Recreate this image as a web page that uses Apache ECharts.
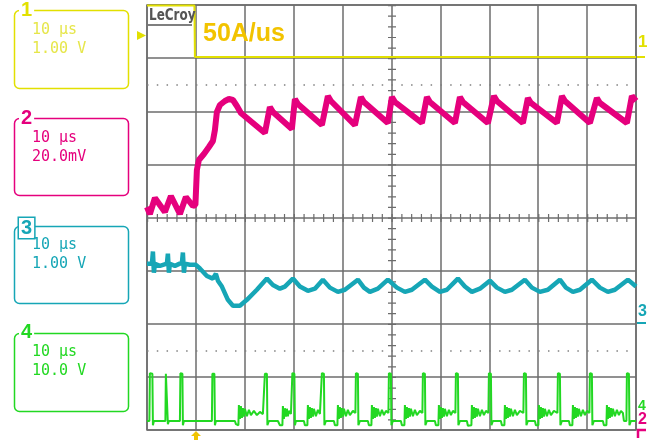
<!DOCTYPE html>
<html><head><meta charset="utf-8">
<script src="https://cdn.jsdelivr.net/npm/echarts@6/dist/echarts.min.js"></script>
<style>html,body{margin:0;padding:0;background:#fff}#c{width:652px;height:440px}</style>
</head><body><div id="c"></div><script>
const channelNames = ['1', '2', '3', '4'];
const timePerDiv = '10 μs';
const voltsPerDiv = ['1.00 V', '20.0mV', '1.00 V', '10.0 V'];
const chUnitsPerDiv = [1, 20, 1, 10];          // V, mV, V, V per division
const chZeroDiv = [3, 0, -2, -3.83];           // channel zero, divisions from screen centre
const timeRange = [-10, 90];                   // µs, 10 µs/div, trigger at 0
const annotation = '50A/us';

// ch1 (V)
const ch1Data = [[-10, 0.99], [-0.3, 0.99], [-0.2, 0.02], [90, 0.02]];

// ch2 (mV)
const ch2Data = [
  [-10.0, 3.95], [-9.41, 1.32], [-8.38, 7.34], [-6.34, 2.07], [-5.11, 8.09], [-3.27, 1.32], [-2.05, 7.72], [-0.61, 4.33], [-0.10, 4.71],
  [0.20, 17.88], [0.61, 21.65], [1.64, 23.91], [2.66, 26.54], [3.48, 28.80], [3.89, 32.94], [4.29, 39.72], [4.91, 42.35], [5.93, 43.86],
  [6.75, 44.61], [7.57, 44.23], [8.38, 41.98], [9.20, 39.34], [14.11, 31.81],
  [15.13, 41.60], [15.75, 39.72], [19.63, 33.32],
  [20.25, 44.61], [20.86, 42.73], [25.77, 34.82],
  [26.99, 45.74], [27.61, 43.86], [32.52, 34.82],
  [33.74, 45.36], [34.36, 43.48], [39.26, 35.58],
  [40.08, 45.36], [40.70, 43.48], [46.22, 35.58],
  [47.24, 45.36], [47.85, 43.48], [52.97, 35.58],
  [53.99, 45.36], [54.60, 43.48], [59.71, 35.58],
  [60.94, 45.74], [61.55, 43.86], [66.87, 35.58],
  [67.89, 44.99], [68.51, 43.11], [73.82, 35.58],
  [74.85, 45.74], [75.46, 43.86], [80.57, 35.58],
  [82.00, 44.99], [82.62, 43.11], [88.14, 35.58],
  [89.16, 45.74], [90, 43.86]
];

// ch3 (V)
const ch3Data = [
  [-10.0, 1.13], [-8.99, 1.13], [-8.79, 1.36], [-8.59, 0.96], [-8.38, 1.13], [-7.36, 1.09], [-5.93, 1.13], [-5.73, 1.32], [-5.52, 0.96],
  [-5.32, 1.13], [-4.29, 1.09], [-2.86, 1.15], [-2.66, 1.34], [-2.45, 0.96], [-2.25, 1.13], [-1.23, 1.11], [0, 1.11], [0.82, 1.04],
  [2.25, 0.90], [3.48, 0.85], [4.09, 0.94], [4.50, 0.81], [5.32, 0.70], [6.54, 0.45], [7.57, 0.34], [9.00, 0.34], [10.43, 0.45],
  [12.47, 0.64], [14.52, 0.85], [15.75, 0.73], [17.18, 0.66], [18.20, 0.70], [19.84, 0.85], [21.27, 0.70], [22.90, 0.62], [24.34, 0.66],
  [25.97, 0.83], [27.40, 0.68], [29.04, 0.60], [30.47, 0.64], [33.13, 0.83], [34.36, 0.68], [35.58, 0.60], [37.22, 0.66], [39.26, 0.83],
  [41.10, 0.68], [42.74, 0.60], [44.17, 0.64], [46.83, 0.83], [48.26, 0.70], [49.90, 0.60], [51.33, 0.64], [53.58, 0.85], [55.01, 0.70],
  [56.44, 0.60], [58.08, 0.66], [60.12, 0.81], [61.55, 0.68], [63.19, 0.60], [64.62, 0.64], [67.28, 0.83], [68.71, 0.68], [70.35, 0.60],
  [71.98, 0.64], [74.44, 0.83], [75.67, 0.68], [77.10, 0.60], [78.53, 0.64], [80.98, 0.83], [82.62, 0.68], [84.25, 0.60], [85.69, 0.64],
  [88.34, 0.83], [90, 0.70]
];

// ch4 (V)
const ch4Data = [
  [-10.0, 0], [-9.51, 0], [-9.41, 9.0], [-8.90, 8.9], [-8.79, -0.8], [-8.59, 0],
  [-6.24, 0], [-6.14, 8.9], [-5.83, 8.9], [-5.73, -0.6], [-5.52, 0],
  [-3.27, 0], [-3.17, 9.0], [-2.76, 8.9], [-2.66, -0.8], [-2.45, 0],
  [3.27, 0], [3.37, 8.9], [3.78, 8.9], [3.89, -0.8], [4.09, 0],
  [7.98, 0], [8.18, -0.6], [8.69, -0.8],
  [8.79, 3.0], [9.00, 0.4], [9.20, 2.8], [9.41, 0.6], [9.61, 2.4], [9.82, 0.8], [10.02, 2.3], [10.43, 0.9], [10.84, 2.1], [11.25, 1.1],
  [11.86, 1.9], [12.47, 1.1], [13.09, 1.7], [13.70, 1.3], [14.01, 1.5],
  [14.11, 8.9], [14.52, 8.9], [14.62, -0.8], [14.93, 0], [16.77, 0], [17.18, -0.8], [17.69, -0.8],
  [17.79, 2.8], [18.00, 0.4], [18.20, 2.4], [18.41, 0.8], [18.61, 2.3], [18.81, 0.9], [19.02, 1.9], [19.43, 1.3], [19.63, 1.5],
  [19.73, 9.0], [20.14, 8.9], [20.25, -0.8], [20.45, 0], [22.09, 0], [22.29, -0.8], [22.80, -0.8],
  [22.90, 3.0], [23.11, 0.4], [23.31, 2.6], [23.52, 0.6], [23.72, 2.4], [23.93, 0.8], [24.13, 2.3], [24.54, 0.9], [24.95, 2.1], [25.36, 1.3], [25.66, 1.5],
  [25.77, 9.0], [26.18, 8.9], [26.28, -0.8], [26.59, 0], [28.22, 0], [28.43, -0.8], [28.94, -0.8],
  [29.04, 3.0], [29.24, 0.4], [29.45, 2.6], [29.65, 0.6], [29.86, 2.4], [30.06, 0.8], [30.27, 2.3], [30.68, 0.9], [31.08, 2.1], [31.49, 1.1], [32.11, 1.9], [32.62, 1.5],
  [32.72, 9.0], [33.13, 8.9], [33.23, -0.8], [33.54, 0], [35.17, 0], [35.38, -0.8], [35.89, -0.8],
  [35.99, 3.0], [36.20, 0.4], [36.40, 2.6], [36.61, 0.6], [36.81, 2.4], [37.01, 0.8], [37.22, 2.3], [37.63, 0.9], [38.04, 2.1], [38.45, 1.1], [38.86, 1.9], [39.37, 1.5],
  [39.47, 9.0], [39.88, 8.9], [39.98, -0.8], [40.29, 0], [41.92, 0], [42.13, -0.8], [42.64, -0.8],
  [42.74, 3.0], [42.95, 0.4], [43.15, 2.6], [43.35, 0.6], [43.56, 2.4], [43.76, 0.8], [43.97, 2.3], [44.38, 0.9], [44.79, 2.1], [45.19, 1.1], [45.81, 1.9], [46.32, 1.5],
  [46.42, 9.0], [46.83, 8.9], [46.93, -0.8], [47.24, 0], [48.88, 0], [49.08, -0.8], [49.59, -0.8],
  [49.69, 3.0], [49.90, 0.4], [50.10, 2.6], [50.31, 0.6], [50.51, 2.4], [50.72, 0.8], [50.92, 2.3], [51.33, 0.9], [51.74, 2.1], [52.15, 1.1], [52.56, 1.9], [53.07, 1.5],
  [53.17, 9.0], [53.58, 8.9], [53.68, -0.8], [53.99, 0], [55.42, 0], [55.62, -0.9], [56.34, -0.8],
  [56.44, 3.0], [56.65, 0.4], [56.85, 2.6], [57.06, 0.6], [57.26, 2.4], [57.46, 0.8], [57.67, 2.3], [58.08, 0.9], [58.49, 2.1], [58.90, 1.1], [59.31, 1.9], [59.82, 1.5],
  [59.92, 9.0], [60.33, 8.9], [60.43, -0.8], [60.74, 0], [62.37, 0], [62.58, -0.8], [63.09, -0.8],
  [63.19, 3.0], [63.40, 0.4], [63.60, 2.6], [63.80, 0.6], [64.01, 2.4], [64.21, 0.8], [64.42, 2.3], [64.83, 0.9], [65.24, 2.1], [65.64, 1.1], [66.26, 1.9], [66.97, 1.5],
  [67.08, 9.0], [67.49, 8.9], [67.59, -0.8], [67.89, 0], [69.33, 0], [69.53, -0.8], [70.04, -0.8],
  [70.14, 3.0], [70.35, 0.4], [70.55, 2.6], [70.76, 0.6], [70.96, 2.4], [71.17, 0.8], [71.37, 2.3], [71.78, 0.9], [72.19, 2.1], [72.60, 1.1], [73.21, 1.9], [73.93, 1.5],
  [74.03, 9.0], [74.44, 8.9], [74.54, -0.8], [74.85, 0], [76.28, 0], [76.48, -0.8], [76.99, -0.8],
  [77.10, 3.0], [77.30, 0.4], [77.51, 2.6], [77.71, 0.6], [77.91, 2.4], [78.12, 0.8], [78.32, 2.3], [78.73, 0.9], [79.14, 2.1], [79.55, 1.1], [79.96, 1.9], [80.47, 1.5],
  [80.57, 9.0], [80.98, 8.9], [81.08, -0.8], [81.39, 0], [83.23, 0], [83.44, -0.8], [83.95, -0.8],
  [84.05, 3.0], [84.25, 0.4], [84.46, 2.6], [84.66, 0.6], [84.87, 2.4], [85.07, 0.8], [85.28, 2.3], [85.69, 0.9], [86.09, 2.1], [86.50, 1.1], [86.91, 1.9], [87.32, 1.5],
  [87.53, 0], [88.04, 0], [88.14, 9.0], [88.55, 8.9], [88.66, -0.8], [88.96, 0], [90, 0]
];

// ---------- presentation ----------
const colors = ['#e2e000', '#e5007d', '#16a6b6', '#22d822'];
const textColors = ['#e6e64a', '#e5007d', '#16a6b6', '#22d822'];
const gridCol = '#6c6c6c';
const G = {left: 147, top: 5, width: 489, height: 425};
const xSub = G.width / 50, ySub = G.height / 40;   // minor-tick spacing (1/5 division)

const chAxes = chUnitsPerDiv.map((u, i) => ({
  type: 'value', gridIndex: 0, show: false,
  min: (-4 - chZeroDiv[i]) * u, max: (4 - chZeroDiv[i]) * u
}));

const boxes = [
  {top: 10.5, h: 78, numY: 10, l1: 30, l2: 49},
  {top: 118.5, h: 77, numY: 118, l1: 138, l2: 157},
  {top: 226.5, h: 77, numY: 228, l1: 245, l2: 264},
  {top: 333.5, h: 78, numY: 332, l1: 352.5, l2: 371}
];
const graphics = [];
boxes.forEach((b, i) => {
  graphics.push({type: 'rect', shape: {x: 14.5, y: b.top, width: 114, height: b.h, r: 5},
    style: {stroke: colors[i], fill: '#fff', lineWidth: 1.5}, z: 10});
  graphics.push({type: 'text', x: 19, y: b.numY, z: 11, style: {
    text: channelNames[i], font: 'bold 20px "Liberation Sans", sans-serif', fill: colors[i],
    backgroundColor: '#fff', padding: [0, 2], borderColor: i === 2 ? colors[i] : null, borderWidth: i === 2 ? 1.5 : 0,
    textVerticalAlign: 'middle', verticalAlign: 'middle'}});
  graphics.push({type: 'text', x: 32, y: b.l1, z: 11, style: {
    text: timePerDiv, font: '15px "DejaVu Sans Mono", monospace', fill: textColors[i],
    textVerticalAlign: 'middle', verticalAlign: 'middle'}});
  graphics.push({type: 'text', x: 32, y: b.l2, z: 11, style: {
    text: voltsPerDiv[i], font: '15px "DejaVu Sans Mono", monospace', fill: textColors[i],
    textVerticalAlign: 'middle', verticalAlign: 'middle'}});
});
// LeCroy logo
graphics.push({type: 'text', x: 149, y: 16, scaleX: 0.8, z: 11, style: {
  text: 'LeCroy', font: 'bold 15px "DejaVu Sans", sans-serif', fill: '#555',
  textVerticalAlign: 'middle', verticalAlign: 'middle'}});
graphics.push({type: 'line', shape: {x1: 148, y1: 25, x2: 192, y2: 25}, style: {stroke: '#555', lineWidth: 1.5}, z: 11});
// annotation
graphics.push({type: 'text', x: 203, y: 34, z: 11, style: {
  text: annotation, font: 'bold 25px "Liberation Sans", Arial, sans-serif', fill: '#f2c300',
  textVerticalAlign: 'middle', verticalAlign: 'middle'}});
// markers
graphics.push({type: 'polygon', shape: {points: [[137, 31], [146, 35.5], [137, 40]]}, style: {fill: colors[0]}, z: 11});
graphics.push({type: 'polygon', shape: {points: [[196, 431], [191, 436], [194, 436], [194, 440], [198, 440], [198, 436], [201, 436]]}, style: {fill: '#f0c400'}, z: 11});
graphics.push({type: 'text', x: 638, y: 42, z: 11, style: {text: '1', font: 'bold 17px "Liberation Sans", sans-serif', fill: colors[0], textVerticalAlign: 'middle', verticalAlign: 'middle'}});
graphics.push({type: 'line', shape: {x1: 637, y1: 57, x2: 645, y2: 57}, style: {stroke: colors[0], lineWidth: 2}, z: 11});
graphics.push({type: 'text', x: 638, y: 312, z: 11, style: {text: '3', font: 'bold 16px "Liberation Sans", sans-serif', fill: colors[2], textVerticalAlign: 'middle', verticalAlign: 'middle'}});
graphics.push({type: 'line', shape: {x1: 637, y1: 323, x2: 646, y2: 323}, style: {stroke: colors[2], lineWidth: 2}, z: 11});
graphics.push({type: 'text', x: 638, y: 406, z: 11, style: {text: '4', font: 'bold 14px "Liberation Sans", sans-serif', fill: colors[3], textVerticalAlign: 'middle', verticalAlign: 'middle'}});
graphics.push({type: 'text', x: 638, y: 420, z: 12, style: {text: '2', font: 'bold 16px "Liberation Sans", sans-serif', fill: colors[1], textVerticalAlign: 'middle', verticalAlign: 'middle'}});
graphics.push({type: 'polyline', shape: {points: [[646, 430], [638, 430], [638, 438]]}, style: {stroke: colors[1], lineWidth: 2.5, fill: null}, z: 11});

const trace = (data, i, width) => ({
  type: 'line', data: data, xAxisIndex: 0, yAxisIndex: i + 1,
  showSymbol: false, symbol: 'none', clip: true, animation: false, silent: true, z: 5,
  lineStyle: {color: colors[i], width: width, join: 'bevel'}
});

const tMid = (timeRange[0] + timeRange[1]) / 2;
const option = {
  animation: false,
  grid: {left: G.left, top: G.top, width: G.width, height: G.height, show: true,
    borderColor: gridCol, borderWidth: 1.5, backgroundColor: '#fff'},
  xAxis: [
    {type: 'value', gridIndex: 0, min: timeRange[0], max: timeRange[1], interval: 10,
      axisLine: {show: false}, axisTick: {show: false}, axisLabel: {show: false},
      splitLine: {show: true, lineStyle: {color: gridCol, width: 1.5}}}
  ],
  yAxis: [
    {type: 'value', gridIndex: 0, min: -4, max: 4, interval: 1,
      axisLine: {show: false}, axisTick: {show: false}, axisLabel: {show: false},
      splitLine: {show: true, lineStyle: {color: gridCol, width: 1.5}}},
    ...chAxes
  ],
  series: [
    {type: 'line', data: [[timeRange[0], 0], [timeRange[1], 0]], xAxisIndex: 0, yAxisIndex: 0,
      symbol: 'none', lineStyle: {opacity: 0}, silent: true, z: 1,
      markLine: {silent: true, symbol: ['none', 'none'], label: {show: false}, animation: false,
        data: [
          [{coord: [timeRange[0], 2.5], lineStyle: {color: '#808080', width: 1.5, type: [1.5, xSub - 1.5], cap: 'butt'}},
           {coord: [timeRange[1], 2.5]}],
          [{coord: [timeRange[0], -2.5], lineStyle: {color: '#808080', width: 1.5, type: [1.5, xSub - 1.5], cap: 'butt'}},
           {coord: [timeRange[1], -2.5]}],
          // centre graticule tick marks
          [{coord: [timeRange[0], 0], lineStyle: {color: gridCol, width: 8, type: [1.2, xSub - 1.2], cap: 'butt'}},
           {coord: [timeRange[1], 0]}],
          [{coord: [tMid, 4], lineStyle: {color: gridCol, width: 8, type: [1.2, ySub - 1.2], cap: 'butt'}},
           {coord: [tMid, -4]}]
        ]}},
    trace(ch4Data, 3, 2),
    trace(ch3Data, 2, 4.5),
    trace(ch2Data, 1, 6),
    trace(ch1Data, 0, 2)
  ],
  graphic: graphics
};
const chart = echarts.init(document.getElementById('c'), null, {renderer: 'canvas'});
chart.setOption(option);
</script></body></html>
